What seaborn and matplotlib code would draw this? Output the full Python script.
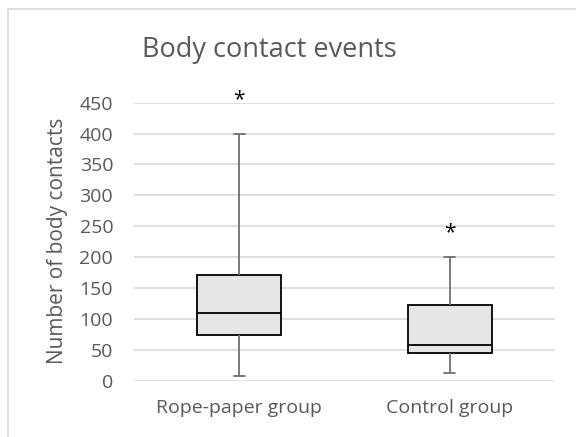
"""
Body contact events: box plot of the two groups (Excel-like styling).
"""

import pandas as pd
import matplotlib.pyplot as plt
import seaborn as sns
from matplotlib.patches import Rectangle

# Values: whisker low, Q1, median, Q3, whisker high
groups = ["Rope-paper group", "Control group"]
rope_paper = [8, 74, 110, 171, 400]
control = [13, 45, 58, 122, 201]
# position of the "*" outlier marks
outlier_marks = [455, 240]
y_ticks = [0, 50, 100, 150, 200, 250, 300, 350, 400, 450]

df = pd.DataFrame({
    "group": [groups[0]] * len(rope_paper) + [groups[1]] * len(control),
    "contacts": rope_paper + control,
})

sns.set_theme(style="white")
plt.rcParams["font.family"] = ["Open Sans", "DejaVu Sans"]
text_grey = "#595959"

fig = plt.figure(figsize=(5.76, 4.37), dpi=100)
ax = fig.add_axes([0.2326, 0.1288, 0.7309, 0.6362])

# light frame around the chart area, like the Excel chart border
fig.patches.append(Rectangle((8 / 576, -0.05), 1.1, 1 - 9 / 437 + 0.05,
                             transform=fig.transFigure, fill=False,
                             edgecolor="#d9d9d9", linewidth=1.2))

sns.boxplot(data=df, x="group", y="contacts", ax=ax, whis=(0, 100),
            width=0.4, color="#e6e6e6", linecolor="black", linewidth=1.3,
            whiskerprops={"color": "#707070", "linewidth": 1.3},
            capprops={"color": "#707070", "linewidth": 1.3},
            medianprops={"color": "black", "linewidth": 1.3},
            fill=True, saturation=1)

# narrow caps
for line in ax.lines:
    xd = line.get_xdata()
    if len(xd) == 2 and xd[0] != xd[1] and line.get_color() == "#707070":
        c = (xd[0] + xd[1]) / 2
        line.set_xdata([c - 0.026, c + 0.026])

for i, v in enumerate(outlier_marks):
    ax.text(i, v, "*", ha="center", va="center", fontsize=15,
            color="black", clip_on=False)

ax.set_ylim(0, 450)
ax.set_yticks(y_ticks)
ax.yaxis.grid(True, color="#d9d9d9", linewidth=1.2)
ax.set_axisbelow(True)
for s in ax.spines.values():
    s.set_visible(False)
ax.tick_params(axis="y", length=0, pad=15, labelsize=14, labelcolor=text_grey)
ax.tick_params(axis="x", length=0, pad=13, labelsize=14, labelcolor=text_grey)
ax.set_xlabel("")
ax.set_ylabel("")
fig.text(57 / 576, 1 - 241 / 437, "Number of body contacts", rotation=90,
         ha="center", va="center", fontsize=15, color=text_grey)
fig.text(269 / 576, 1 - 50 / 437, "Body contact events", ha="center",
         va="center", fontsize=19.5, color=text_grey)

fig.savefig("out.png", dpi=100)
